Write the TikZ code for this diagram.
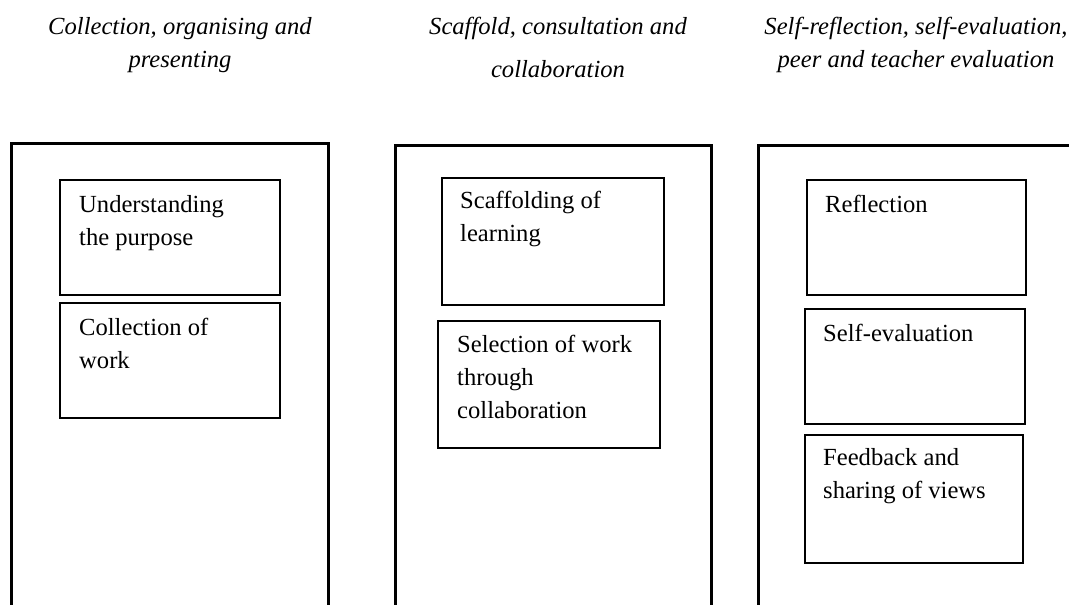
\documentclass[tikz,border=0pt]{standalone}
\usepackage{fontspec}
\setmainfont{Liberation Serif}
\begin{document}
\begin{tikzpicture}[x=1pt,y=-1pt,
  outer/.style={draw=black,line width=2.8pt,rectangle,anchor=north west,inner sep=0pt},
  inner/.style={draw=black,line width=1.8pt,rectangle,anchor=north west,inner sep=0pt},
  label/.style={anchor=base west,align=left,inner sep=0pt,font=\fontsize{24.6}{33}\selectfont},
  head/.style={anchor=base,align=center,inner sep=0pt,font=\fontsize{24.6}{33}\selectfont\itshape}]
\useasboundingbox (0,0) rectangle (1069,605);
% headings (anchor = baseline of last line)
\node[head] (h1) at (180,67) {Collection, organising and\\presenting};
\node[head] (h2) at (558,77) {Scaffold, consultation and\\[10pt]collaboration};
\node[head] (h3) at (916,67) {Self-reflection, self-evaluation,\\peer and teacher evaluation};
% outer columns
\node[outer,minimum width=317pt,minimum height=520pt] (c1) at (10,142) {};
\node[outer,minimum width=316pt,minimum height=520pt] (c2) at (394,144) {};
\node[outer,minimum width=340pt,minimum height=520pt] (c3) at (757,144) {};
% column 1
\node[inner,minimum width=220pt,minimum height=115pt] (b11) at (59,179) {};
\node[label] (t11) at (79,245) {Understanding\\the purpose};
\node[inner,minimum width=220pt,minimum height=115pt] (b12) at (59,302) {};
\node[label] (t12) at (79,368) {Collection of\\work};
% column 2
\node[inner,minimum width=222pt,minimum height=127pt] (b21) at (441,177) {};
\node[label] (t21) at (460,241) {Scaffolding of\\learning};
\node[inner,minimum width=222pt,minimum height=127pt] (b22) at (437,320) {};
\node[label] (t22) at (457,418) {Selection of work\\through\\collaboration};
% column 3
\node[inner,minimum width=219pt,minimum height=115pt] (b31) at (806,179) {};
\node[label] (t31) at (825,212) {Reflection};
\node[inner,minimum width=220pt,minimum height=115pt] (b32) at (804,308) {};
\node[label] (t32) at (823,341) {Self-evaluation};
\node[inner,minimum width=218pt,minimum height=128pt] (b33) at (804,434) {};
\node[label] (t33) at (823,498) {Feedback and\\sharing of views};
\end{tikzpicture}
\end{document}
